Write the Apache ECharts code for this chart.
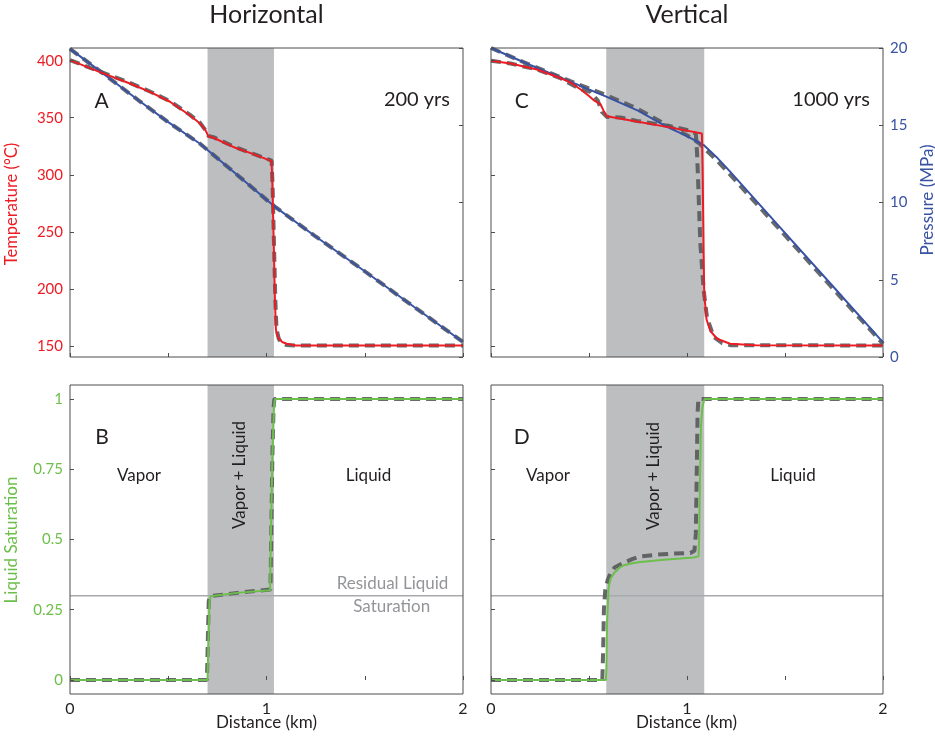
<!DOCTYPE html>
<html><head><meta charset="utf-8">
<script src="https://cdn.jsdelivr.net/npm/echarts@6/dist/echarts.min.js"></script>
<style>html,body{margin:0;padding:0;background:#fff}#c{width:935px;height:737px}</style>
</head><body><div id="c"></div>
<script>
// ---------- data ----------
const tempTicks = [150, 200, 250, 300, 350, 400];
const presTicks = [0, 5, 10, 15, 20];
const satTicks = [0, 0.25, 0.5, 0.75, 1];
const shadeH = [0.700, 1.038];
const shadeV = [0.588, 1.088];
const residualSat = 0.3;

// Panel A (Horizontal, 200 yrs)
const distA_T = [0, 0.153, 0.305, 0.407, 0.509, 0.611, 0.662, 0.69, 0.705, 0.73, 0.831, 0.93, 1.026, 1.030, 1.037, 1.043, 1.048, 1.06, 1.08, 1.102, 1.15, 2];
const tempA   = [400.5, 390, 380, 372.7, 364, 352, 345, 339, 333.5, 332.5, 324.4, 318.3, 312, 290, 240, 190, 164, 157, 153.5, 152, 150.5, 150.5];
const distA_Td = [0, 0.153, 0.305, 0.407, 0.509, 0.611, 0.662, 0.69, 0.705, 0.73, 0.831, 0.93, 1.026, 1.031, 1.038, 1.045, 1.051, 1.063, 1.08, 1.1, 1.15, 2];
const tempAd   = [400.5, 390.5, 380.5, 373, 364.5, 352.5, 345.5, 339, 334, 333, 325, 318.5, 312.5, 290, 240, 190, 165, 156, 152.5, 151, 150.5, 150.5];
const distA_P = [0, 0.153, 0.35, 0.5, 0.662, 0.85, 1.035, 1.25, 1.5, 1.75, 2];
const presA   = [19.94, 18.5, 16.6, 15.2, 13.8, 11.8, 9.8, 7.8, 5.55, 3.25, 0.97];
const presAd  = [19.94, 18.5, 16.6, 15.2, 13.8, 11.8, 9.8, 7.8, 5.55, 3.25, 0.97];

// Panel C (Vertical, 1000 yrs)
const distC_T = [0, 0.1, 0.234, 0.35, 0.405, 0.456, 0.5, 0.523, 0.558, 0.575, 0.591, 0.75, 0.898, 1.076, 1.080, 1.085, 1.088, 1.10, 1.12, 1.153, 1.22, 1.35, 2];
const tempC   = [400, 397.5, 392.3, 385, 381, 375, 369, 365.5, 362, 356, 351.4, 346.5, 342, 336.2, 300, 230, 195, 173, 163, 156.4, 152, 150.8, 150.5];
const distC_Td = [0, 0.1, 0.234, 0.35, 0.456, 0.506, 0.545, 0.566, 0.591, 0.66, 0.745, 0.828, 0.914, 1.006, 1.045, 1.051, 1.056, 1.068, 1.085, 1.102, 1.136, 1.18, 1.22, 2];
const tempCd   = [400, 397.5, 392.3, 385, 375, 372.7, 365, 355.1, 350.7, 350.2, 347.2, 344.9, 342.6, 339.1, 336, 320, 298, 240, 199, 175, 158, 152.5, 150.8, 150.5];
const distC_P = [0, 0.2, 0.405, 0.588, 0.75, 0.898, 1.0, 1.085, 1.15, 1.22, 1.47, 1.75, 2];
const presC   = [20.0, 18.9, 17.82, 16.85, 15.95, 14.9, 14.3, 13.72, 12.95, 12.0, 8.45, 4.5, 0.95];
const distC_Pd = [0, 0.2, 0.405, 0.588, 0.75, 0.898, 1.0, 1.06, 1.085, 1.15, 1.22, 1.47, 1.75, 2];
const presCd   = [20.0, 18.9, 17.85, 16.95, 16.05, 15.0, 14.35, 13.85, 13.55, 12.75, 11.8, 8.3, 4.35, 0.85];

// Panel B (Horizontal saturation)
const distB = [0, 0.700, 0.703, 0.710, 0.716, 0.85, 1.018, 1.022, 1.030, 1.038, 1.043, 2];
const satB  = [0, 0, 0.1, 0.28, 0.298, 0.31, 0.319, 0.5, 0.8, 0.97, 1.0, 1.0];
const distBd = [0, 0.697, 0.700, 0.706, 0.712, 0.85, 1.02, 1.024, 1.030, 1.036, 1.04, 2];
const satBd  = [0, 0, 0.1, 0.28, 0.298, 0.31, 0.322, 0.5, 0.8, 0.97, 1.0, 1.0];

// Panel D (Vertical saturation)
const distD = [0, 0.586, 0.589, 0.592, 0.600, 0.610, 0.626, 0.66, 0.677, 0.728, 0.762, 0.881, 0.966, 1.034, 1.059, 1.062, 1.066, 1.071, 1.078, 1.085, 1.09, 2];
const satD  = [0, 0, 0.05, 0.2, 0.33, 0.36, 0.379, 0.402, 0.408, 0.416, 0.42, 0.428, 0.432, 0.436, 0.44, 0.5, 0.7, 0.9, 0.97, 0.99, 1.0, 1.0];
const distDd = [0, 0.568, 0.572, 0.576, 0.583, 0.595, 0.609, 0.63, 0.668, 0.72, 0.762, 0.847, 0.932, 1.017, 1.038, 1.045, 1.05, 1.054, 1.058, 2];
const satDd  = [0, 0, 0.1, 0.25, 0.32, 0.355, 0.379, 0.4, 0.414, 0.43, 0.44, 0.446, 0.45, 0.452, 0.46, 0.52, 0.75, 0.95, 1.0, 1.0];

// ---------- styles ----------
const RED = '#ed1c24', BLUE = '#3953a4', GREEN = '#6dbf4b', DASH = '#58595b';
const SHADE = '#bcbec0', FRAME = '#4d4d4f';
const FONT = 'Lato, "Open Sans", sans-serif';

function pairs(xs, ys) { return xs.map((x, i) => [x, ys[i]]); }

const gridBoxes = [
  {left: 70, top: 48, width: 393, height: 309},
  {left: 491, top: 48, width: 392, height: 309},
  {left: 70, top: 385, width: 393, height: 309},
  {left: 491, top: 385, width: 392, height: 309}
];

const grid = gridBoxes.map(g => Object.assign({show: true, borderColor: FRAME, borderWidth: 1, backgroundColor: 'transparent', z: 10}, g));

function xAx(i, labels) {
  return {
    type: 'value', gridIndex: i, min: 0, max: 2, interval: 0.5, z: 10,
    axisLine: {show: false},
    axisTick: {show: true, inside: true, length: 4, lineStyle: {color: FRAME}},
    splitLine: {show: false},
    axisLabel: {show: labels, margin: 7, color: '#231f20', fontSize: 16, fontFamily: FONT,
      formatter: v => (Math.abs(v - Math.round(v)) < 1e-9 ? String(Math.round(v)) : '')}
  };
}
function tempAx(i, labels) {
  return {
    type: 'value', gridIndex: i, position: 'left', min: 140.4, max: 411.1, z: 10,
    axisLine: {show: false},
    axisTick: {show: true, inside: true, length: 4, customValues: tempTicks, lineStyle: {color: FRAME}},
    splitLine: {show: false},
    axisLabel: {show: labels, customValues: tempTicks, margin: 7, color: RED, fontSize: 15, fontFamily: FONT}
  };
}
function presAx(i, labels) {
  return {
    type: 'value', gridIndex: i, position: 'right', min: 0, max: 20, interval: 5, z: 10,
    axisLine: {show: false},
    axisTick: {show: true, inside: true, length: 4, lineStyle: {color: FRAME}},
    splitLine: {show: false},
    axisLabel: {show: labels, margin: 7, color: BLUE, fontSize: 15, fontFamily: FONT, showMinLabel: true, showMaxLabel: true}
  };
}
function satAx(i, labels) {
  return {
    type: 'value', gridIndex: i, position: 'left', min: -0.05, max: 1.05, z: 10,
    axisLine: {show: false},
    axisTick: {show: true, inside: true, length: 4, customValues: satTicks, lineStyle: {color: FRAME}},
    splitLine: {show: false},
    axisLabel: {show: labels, customValues: satTicks, margin: 7, color: GREEN, fontSize: 15, fontFamily: FONT}
  };
}

const xAxis = [xAx(0, false), xAx(1, false), xAx(2, true), xAx(3, true)];
const yAxis = [tempAx(0, true), presAx(0, false), tempAx(1, false), presAx(1, true), satAx(2, true), satAx(3, false)];

function shadeSeries(xi, yi, range) {
  return {type: 'line', xAxisIndex: xi, yAxisIndex: yi, data: [], z: 1, silent: true,
    markArea: {silent: true, itemStyle: {color: SHADE}, data: [[{xAxis: range[0]}, {xAxis: range[1]}]]}};
}
function solid(xi, yi, data, color) {
  return {type: 'line', xAxisIndex: xi, yAxisIndex: yi, data, z: 4, symbol: 'none', smooth: false,
    lineStyle: {color, width: 2}, silent: true};
}
function dashed(xi, yi, data) {
  return {type: 'line', xAxisIndex: xi, yAxisIndex: yi, data, z: 3, symbol: 'none',
    lineStyle: {color: DASH, width: 4, type: [10, 6], opacity: 0.9}, silent: true};
}
function residual(xi, yi) {
  return {type: 'line', xAxisIndex: xi, yAxisIndex: yi, data: [[0, residualSat], [2, residualSat]], z: 2, symbol: 'none',
    lineStyle: {color: '#a7a9ac', width: 1.5}, silent: true};
}

const series = [
  shadeSeries(0, 0, shadeH), shadeSeries(1, 2, shadeV), shadeSeries(2, 4, shadeH), shadeSeries(3, 5, shadeV),
  residual(2, 4), residual(3, 5),
  // A
  dashed(0, 1, pairs(distA_P, presAd)), dashed(0, 0, pairs(distA_Td, tempAd)),
  solid(0, 1, pairs(distA_P, presA), BLUE), solid(0, 0, pairs(distA_T, tempA), RED),
  // C
  dashed(1, 3, pairs(distC_Pd, presCd)), dashed(1, 2, pairs(distC_Td, tempCd)),
  solid(1, 3, pairs(distC_P, presC), BLUE), solid(1, 2, pairs(distC_T, tempC), RED),
  // B
  dashed(2, 4, pairs(distBd, satBd)), solid(2, 4, pairs(distB, satB), GREEN),
  // D
  dashed(3, 5, pairs(distDd, satDd)), solid(3, 5, pairs(distD, satD), GREEN)
];

function txt(text, x, y, size, opts) {
  opts = opts || {};
  return {type: 'text', x, y, rotation: opts.rot || 0, z: 100, silent: true,
    style: {text, fontSize: size, fontFamily: FONT, fill: opts.color || '#231f20',
      align: opts.align || 'center', verticalAlign: 'middle'}};
}
const R = Math.PI / 2;
const graphic = [
  txt('Horizontal', 266.5, 15, 25),
  txt('Vertical', 687, 15, 25),
  txt('A', 101.7, 101, 21),
  txt('200 yrs', 450, 100, 20, {align: 'right'}),
  txt('C', 521.7, 101, 21),
  txt('1000 yrs', 870, 100, 20, {align: 'right'}),
  txt('B', 102, 437, 21),
  txt('D', 521.7, 437, 21),
  txt('Vapor', 139, 476, 17),
  txt('Vapor', 548, 476, 17),
  txt('Liquid', 368.5, 476, 17),
  txt('Liquid', 793, 476, 17),
  txt('Vapor + Liquid', 240, 475, 17, {rot: R}),
  txt('Vapor + Liquid', 654, 476, 17, {rot: R}),
  txt('Residual Liquid', 392.5, 584, 17, {color: '#939598'}),
  txt('Saturation', 391.7, 607, 17, {color: '#939598'}),
  txt('Distance (km)', 266.5, 723, 17),
  txt('Distance (km)', 686.5, 723, 17),
  txt('Temperature (°C)', 11.5, 204, 16.5, {rot: R, color: RED}),
  txt('Pressure (MPa)', 928, 200, 17, {rot: R, color: BLUE}),
  txt('Liquid Saturation', 11.5, 540, 17, {rot: R, color: GREEN})
];

const chart = echarts.init(document.getElementById('c'), null, {renderer: 'canvas'});
chart.setOption({animation: false, grid, xAxis, yAxis, series, graphic});
</script></body></html>
